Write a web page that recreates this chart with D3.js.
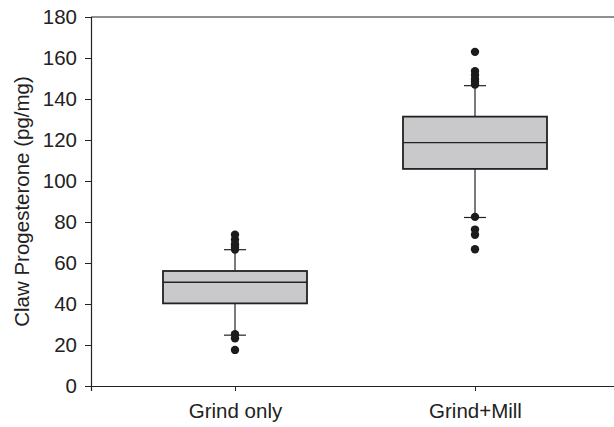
<!DOCTYPE html>
<html>
<head>
<meta charset="utf-8">
<script src="https://cdn.jsdelivr.net/npm/d3@7"></script>
<style>
  body { margin: 0; background: #fff; }
  svg { display: block; font-family: 'Liberation Sans', Arial, sans-serif; }
</style>
</head>
<body>
<div id="chart"></div>
<script>
const categories = ['Grind only', 'Grind+Mill']
const q1 = [40.3, 105.9]
const medians = [50.6, 118.7]
const q3 = [56.1, 131.4]
const whiskerLow = [24.8, 82.2]
const whiskerHigh = [66.5, 146.5]
const outliers = [
  [73.8, 71.3, 69.2, 67.8, 66.6, 25.3, 23.3, 17.6],
  [163, 153.6, 151.7, 149.8, 148.4, 147, 82.5, 76.3, 73.8, 66.7]
]
const yTicks = [0, 20, 40, 60, 80, 100, 120, 140, 160, 180]

const W = 614
const H = 427
const margin = { top: 17, right: -5, bottom: 41, left: 91 }
const colors = { text: '#222', line: '#222', box: '#c9c9cb', dot: '#1c1c1c' }
const fontSize = '20.5px'

const svg = d3.select('#chart').append('svg').attr('width', W).attr('height', H)

const x = d3.scalePoint().domain(categories).range([margin.left, W - margin.right]).padding(0.6)
const y = d3.scaleLinear().domain([0, 180]).range([H - margin.bottom, margin.top])
const boxW = x.step() * 0.6

// cadre
svg.append('line')
  .attr('x1', margin.left).attr('x2', W - margin.right)
  .attr('y1', y(180)).attr('y2', y(180))
  .attr('stroke', colors.line).attr('stroke-width', 1.2)

svg.append('g')
  .attr('transform', `translate(${margin.left},0)`)
  .call(d3.axisLeft(y).tickValues(yTicks).tickSize(6).tickPadding(8))
  .call((g) => {
    g.select('.domain').attr('stroke', colors.line).attr('stroke-width', 1.2)
    g.selectAll('.tick line').attr('stroke', colors.line)
    g.selectAll('.tick text').style('font-size', fontSize).style('fill', colors.text)
  })

svg.append('g')
  .attr('transform', `translate(0,${y(0)})`)
  .call(d3.axisBottom(x).tickSize(5).tickPadding(12))
  .call((g) => {
    g.select('.domain').attr('stroke', colors.line).attr('stroke-width', 1.2)
    g.selectAll('.tick line').attr('stroke', colors.line)
    g.selectAll('.tick text').style('font-size', fontSize).style('fill', colors.text)
  })

svg.append('text')
  .attr('transform', `translate(29,${(y(0) + y(180)) / 2}) rotate(-90)`)
  .attr('text-anchor', 'middle')
  .style('font-size', fontSize)
  .style('fill', colors.text)
  .text('Claw Progesterone (pg/mg)')

const boxes = svg.append('g')
  .selectAll('g')
  .data(categories)
  .enter()
  .append('g')

// moustaches
boxes.append('line')
  .attr('x1', (d) => x(d)).attr('x2', (d) => x(d))
  .attr('y1', (d, i) => y(whiskerLow[i])).attr('y2', (d, i) => y(whiskerHigh[i]))
  .attr('stroke', colors.line).attr('stroke-width', 1.2)

boxes.append('line')
  .attr('x1', (d) => x(d) - 11).attr('x2', (d) => x(d) + 11)
  .attr('y1', (d, i) => y(whiskerLow[i])).attr('y2', (d, i) => y(whiskerLow[i]))
  .attr('stroke', colors.line).attr('stroke-width', 1.2)

boxes.append('line')
  .attr('x1', (d) => x(d) - 11).attr('x2', (d) => x(d) + 11)
  .attr('y1', (d, i) => y(whiskerHigh[i])).attr('y2', (d, i) => y(whiskerHigh[i]))
  .attr('stroke', colors.line).attr('stroke-width', 1.2)

boxes.append('rect')
  .attr('x', (d) => x(d) - boxW / 2)
  .attr('y', (d, i) => y(q3[i]))
  .attr('width', boxW)
  .attr('height', (d, i) => y(q1[i]) - y(q3[i]))
  .attr('fill', colors.box)
  .attr('stroke', colors.line)
  .attr('stroke-width', 1.8)

boxes.append('line')
  .attr('x1', (d) => x(d) - boxW / 2).attr('x2', (d) => x(d) + boxW / 2)
  .attr('y1', (d, i) => y(medians[i])).attr('y2', (d, i) => y(medians[i]))
  .attr('stroke', colors.line).attr('stroke-width', 1.4)

// points extremes
boxes.selectAll('circle')
  .data((d, i) => outliers[i].map((v) => ({ cat: d, v })))
  .enter()
  .append('circle')
  .attr('cx', (d) => x(d.cat))
  .attr('cy', (d) => y(d.v))
  .attr('r', 4.2)
  .attr('fill', colors.dot)
</script>
</body>
</html>
